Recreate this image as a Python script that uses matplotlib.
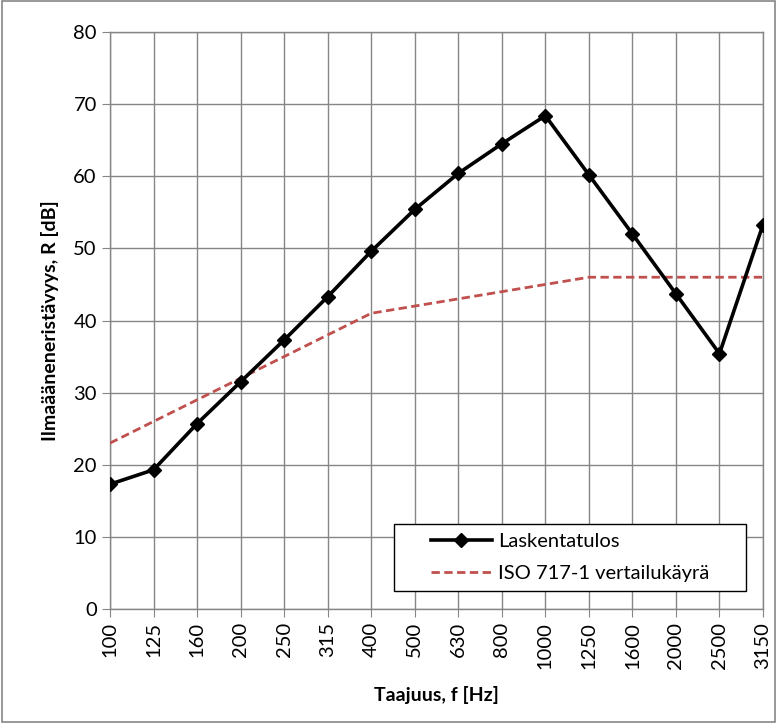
import matplotlib
matplotlib.use("Agg")
import matplotlib.pyplot as plt

plt.rcParams['font.family'] = ['Lato', 'DejaVu Sans']

taajuus = ["100", "125", "160", "200", "250", "315", "400", "500", "630",
           "800", "1000", "1250", "1600", "2000", "2500", "3150"]
laskentatulos = [17.3, 19.3, 25.7, 31.5, 37.3, 43.3, 49.6, 55.4, 60.4,
                 64.5, 68.4, 60.2, 52.0, 43.7, 35.4, 53.3]
iso_vertailu = [23, 26, 29, 32, 35, 38, 41, 42, 43, 44, 45, 46, 46, 46, 46, 46]

x = list(range(len(taajuus)))

fig = plt.figure(figsize=(7.77, 7.23), dpi=100)
ax = fig.add_axes([0.1416, 0.1577, 0.8404, 0.798])

grid_col = "#868686"
ax.plot(x, laskentatulos, color="black", lw=2.6, marker="D", ms=7,
        label="Laskentatulos", zorder=4)
ax.plot(x, iso_vertailu, color="#C0504D", lw=2.0, ls=(0, (3, 1.6)),
        label="ISO 717-1 vertailukäyrä", zorder=3)

ax.set_xlim(0, len(taajuus) - 1)
ax.set_ylim(0, 80)
ax.set_xticks(x)
ax.set_xticklabels(taajuus, rotation=90, fontsize=14.5)
ax.set_yticks(range(0, 81, 10))
ax.tick_params(axis="y", labelsize=14.5, length=6, color=grid_col)
ax.tick_params(axis="x", length=6, color=grid_col)
ax.grid(True, color=grid_col, lw=1.0)
for s in ax.spines.values():
    s.set_color(grid_col)
    s.set_linewidth(1.0)

ax.set_xlabel("Taajuus, f [Hz]", fontsize=14, fontweight="bold", labelpad=12)
ax.set_ylabel("Ilmaääneneristävyys, R [dB]", fontsize=14, fontweight="bold", labelpad=10)

# legend box like excel: wide frame, entries centred inside
ax.add_patch(plt.Rectangle((0.435, 0.031), 0.539, 0.116, transform=ax.transAxes,
                           facecolor="white", edgecolor="black", lw=1.0, zorder=5))
leg = ax.legend(loc="center", bbox_to_anchor=(0.7045, 0.089), fontsize=14.5,
                frameon=False, handlelength=3.0, handletextpad=0.3,
                labelspacing=0.75, borderaxespad=0, borderpad=0)
leg.set_zorder(6)

fig.patches.append(plt.Rectangle((0.002, 0.002), 0.996, 0.996, transform=fig.transFigure,
                                 fill=False, edgecolor=grid_col, lw=1.2))

fig.savefig("out.png", dpi=100)
